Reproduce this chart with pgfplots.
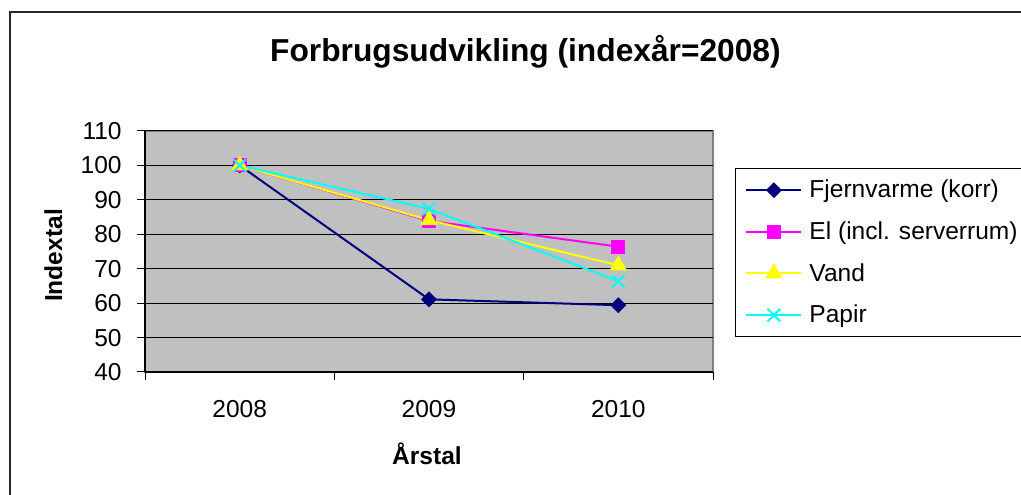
\documentclass[border=0pt]{standalone}
\usepackage{fontspec}
\setmainfont{Liberation Sans}
\usepackage{pgfplots}
\pgfplotsset{compat=1.18}
\definecolor{navyc}{HTML}{000080}
\definecolor{magc}{HTML}{FF00FF}
\definecolor{yelc}{HTML}{FFFF00}
\definecolor{cyac}{HTML}{00FFFF}
\definecolor{bgc}{HTML}{C0C0C0}
\definecolor{bordc}{HTML}{808080}
\begin{document}
\begin{tikzpicture}
\useasboundingbox (0,0) rectangle (765.75pt,371.25pt);
\draw[line width=1.2pt, black!85] (7.5pt,-20pt) rectangle (800pt,362.25pt);
\begin{axis}[
  at={(108.75pt,92.25pt)}, anchor=south west,
  scale only axis, width=426pt, height=180.75pt,
  xmin=-0.5, xmax=2.5, ymin=40, ymax=110,
  ytick={40,50,...,110},
  xtick={-0.5,0.5,1.5,2.5}, xticklabels={},
  extra x ticks={0,1,2}, extra x tick labels={2008,2009,2010},
  extra x tick style={major tick length=0pt, grid=none},
  ymajorgrids, grid style={black, line width=0.75pt},
  axis background/.style={fill=bgc, draw=bordc, line width=0.9pt},
  axis x line*=bottom, axis y line*=left,
  axis line style={black, line width=0.9pt},
  tick align=outside, major tick length=6pt,
  tick style={black, line width=0.75pt},
  ticklabel style={font=\fontsize{18.4}{20}\selectfont},
  /pgf/number format/assume math mode=true,
  xticklabel style={anchor=base, yshift=-34.5pt},
  yticklabel style={anchor=east, xshift=-8pt},
  legend style={at={(1.0387,0.8465)}, anchor=north west, draw=black, line width=0.75pt, fill=white,
    font=\fontsize{18.4}{20}\selectfont, inner xsep=7.5pt, inner ysep=7pt,
    nodes={inner sep=0pt, text height=15pt, text depth=3.5pt}, row sep=12.75pt, column sep=5.25pt},
  legend cell align=left,
  legend image code/.code={\draw[mark repeat=2,mark phase=2] plot coordinates {(0pt,0pt)(20.6pt,0pt)(41.25pt,0pt)};},
]
\addplot[color=navyc, line width=1.5pt, mark=diamond*, mark size=4.9pt, mark options={xscale=1.33, solid}] coordinates {(0,100)(1,61.1)(2,59.4)};
\addlegendentry{Fjernvarme (korr)}
\addplot[color=magc, line width=1.5pt, mark=square*, mark size=4.5pt, mark options={solid}] coordinates {(0,100)(1,83.9)(2,76.4)};
\addlegendentry{El (incl. serverrum)\hspace*{14pt}}
\addplot[color=yelc, line width=1.5pt, mark=triangle*, mark size=6pt, mark options={solid}] coordinates {(0,100)(1,84.1)(2,71.0)};
\addlegendentry{Vand}
\addplot[color=cyac, line width=1.5pt, mark=x, mark size=6.7pt, mark options={solid}] coordinates {(0,100)(1,87.4)(2,66.4)};
\addlegendentry{Papir}
\end{axis}
\node[anchor=base, font=\bfseries\fontsize{23.8}{26}\selectfont] at (394.1pt,325pt) {Forbrugsudvikling (indexår=2008)};
\node[anchor=base, font=\bfseries\fontsize{18.4}{20}\selectfont] at (320.25pt,22.5pt) {Årstal};
\node[anchor=base, rotate=90, font=\bfseries\fontsize{18.4}{20}\selectfont] at (46.5pt,179.6pt) {Indextal};
\end{tikzpicture}
\end{document}
